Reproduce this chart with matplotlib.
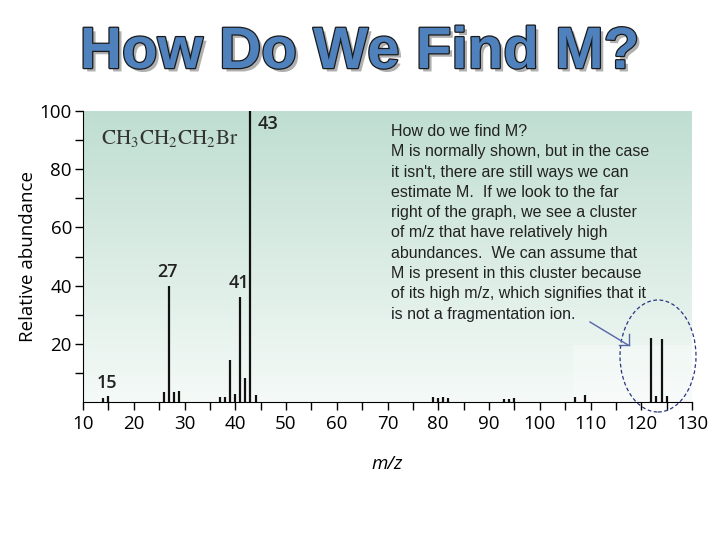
import numpy as np
import matplotlib.pyplot as plt
import matplotlib.patheffects as pe
from matplotlib.patches import Ellipse, Rectangle
from matplotlib.lines import Line2D

# mass spectrum of 1-bromopropane
mz = [14, 15, 26, 27, 28, 29, 37, 38, 39, 40, 41, 42, 43, 44,
      79, 80, 81, 82, 93, 94, 95, 107, 109, 122, 123, 124, 125]
abundance = [1.4, 2.1, 3.6, 40, 3.3, 3.9, 1.6, 1.6, 14.6, 2.6, 36.2, 8.1, 100, 2.3,
             1.7, 1.5, 1.7, 1.5, 0.9, 0.9, 1.3, 1.7, 2.4, 21.9, 2.0, 21.6, 2.0]
peak_labels = {15: "15", 27: "27", 41: "41", 43: "43"}

x_ticks = list(range(10, 131, 10))
y_ticks = [20, 40, 60, 80, 100]

note = ("How do we find M?\n"
        "M is normally shown, but in the case\n"
        "it isn't, there are still ways we can\n"
        "estimate M.  If we look to the far\n"
        "right of the graph, we see a cluster\n"
        "of m/z that have relatively high\n"
        "abundances.  We can assume that\n"
        "M is present in this cluster because\n"
        "of its high m/z, which signifies that it\n"
        "is not a fragmentation ion.")

plt.rcParams['mathtext.fontset'] = 'stix'

fig = plt.figure(figsize=(7.2, 5.4), dpi=100)
ax = fig.add_axes([83/720, 1 - 402/540, 609/720, 291/540])

# green-to-white gradient behind the spectrum
top = np.array([0.75, 0.87, 0.82])
bot = np.array([0.96, 0.98, 0.97])
t = np.linspace(0, 1, 256)[:, None]
grad = (top * (1 - t) + bot * t)[:, None, :]
ax.imshow(grad, extent=(10, 130, 0, 100), aspect='auto', zorder=0)
ax.add_patch(Rectangle((106.5, 0), 23.5, 19.5, color='white', alpha=0.3, lw=0, zorder=0.5))

ax.vlines(mz, 0, abundance, color='#111111', lw=1.6, zorder=2)

ax.set_xlim(10, 130)
ax.set_ylim(0, 100)
ax.spines['top'].set_visible(False)
ax.spines['right'].set_visible(False)
ax.set_xticks(x_ticks)
ax.set_xticks(range(15, 130, 10), minor=True)
ax.set_yticks(y_ticks)
ax.set_yticks(range(10, 100, 20), minor=True)
ax.tick_params(which='both', direction='out', length=6, width=1, labelsize=13.5)
ax.tick_params(axis='y', pad=2)
for lab in ax.get_xticklabels() + ax.get_yticklabels():
    lab.set_family('Open Sans')
ax.set_ylabel('Relative abundance', fontsize=13.5, family='Open Sans', labelpad=2)
ax.set_xlabel('m/z', fontsize=13.5, family='Open Sans', style='italic', labelpad=16)

for m, a in zip(mz, abundance):
    if m in peak_labels:
        if m == 43:
            ax.text(m + 1.5, a - 1.5, peak_labels[m], fontsize=13, weight='semibold',
                    family='Open Sans', ha='left', va='top', color='#222')
        else:
            ax.text(m - 0.3, a + 1.5, peak_labels[m], fontsize=13, weight='semibold',
                    family='Open Sans', ha='center', va='bottom', color='#222')

ax.text(13.5, 90.5, r'$\mathrm{CH_3CH_2CH_2Br}$', fontsize=15.2, color='#333',
        ha='left', va='center')

fig.text(391/720, 1 - 124/540, note, fontsize=11.5, family='Liberation Sans',
         color='#222', va='top', ha='left', linespacing=1.44)

# title with outline and shadow
fig.text(0.5, 1 - 53/540, 'How Do We Find M?', fontsize=42, weight='bold',
         family='Liberation Sans', color='#4f81bd', ha='center', va='center',
         path_effects=[pe.SimplePatchShadow(offset=(2.5, -2.5), shadow_rgbFace='#b0b0b0', alpha=1),
                       pe.withStroke(linewidth=1.8, foreground='#1a1a1a')])

# arrow and ellipse pointing at the molecular ion cluster
arrow_col = '#5565a8'
def px(x, y):
    return x / 720, 1 - y / 540
for (x0, y0), (x1, y1) in [((590, 322), (628, 345)), ((629, 334), (629, 345)), ((619, 345), (629, 345))]:
    (a0, b0), (a1, b1) = px(x0, y0), px(x1, y1)
    fig.add_artist(Line2D([a0, a1], [b0, b1], color=arrow_col, lw=1))
cx, cy = px(658, 356)
fig.add_artist(Ellipse((cx, cy), 76/720, 112/540, fill=False, ls=(0, (3, 2)),
                       ec='#2a3580', lw=0.9, transform=fig.transFigure))

fig.savefig('out.png', dpi=100)
